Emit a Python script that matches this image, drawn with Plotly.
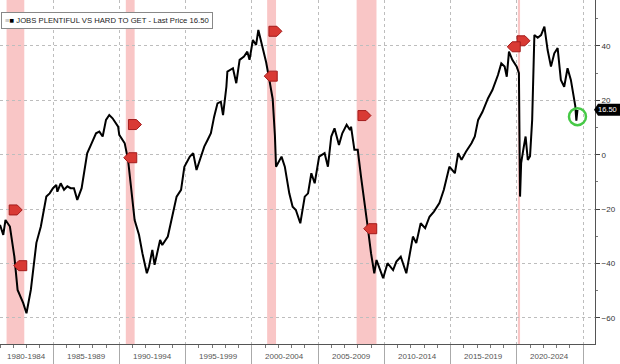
import plotly.graph_objects as go

# ---- data ----
dates = [
    "1981-01", "1981-04", "1981-06", "1981-10", "1982-02", "1982-05", "1982-10",
    "1983-01", "1983-05", "1983-10", "1984-02", "1984-07", "1984-10",
    "1985-01", "1985-04", "1985-05", "1985-08", "1985-11", "1986-02", "1986-05",
    "1986-08", "1986-11", "1987-03", "1987-08", "1987-12", "1988-04", "1988-07",
    "1988-10", "1989-01", "1989-04", "1989-07", "1989-12", "1990-01", "1990-06",
    "1990-09", "1990-12", "1991-03", "1991-07", "1991-10", "1992-02", "1992-04",
    "1992-07", "1992-09", "1993-02", "1993-04", "1993-09", "1994-01", "1994-05",
    "1994-09", "1994-12", "1995-05", "1995-08", "1995-11", "1996-02", "1996-06",
    "1996-09", "1996-12", "1997-03", "1997-06", "1997-09", "1997-11", "1998-02",
    "1998-03", "1998-08", "1998-11", "1999-02", "1999-06", "1999-09", "1999-11",
    "2000-02", "2000-05", "2000-07", "2000-11", "2001-02", "2001-05", "2001-08",
    "2001-10", "2001-11", "2002-04", "2002-07", "2002-11", "2003-02", "2003-05",
    "2003-09", "2004-01", "2004-04", "2004-07", "2004-10", "2005-02", "2005-07",
    "2005-10", "2006-01", "2006-04", "2006-08", "2006-11", "2007-03", "2007-06",
    "2007-07", "2007-10", "2008-01", "2008-04", "2008-07", "2008-10", "2009-01",
    "2009-04", "2009-06", "2009-09", "2009-12", "2010-04", "2010-09", "2010-12",
    "2011-04", "2011-09", "2011-12", "2012-03", "2012-06", "2012-10", "2013-02",
    "2013-06", "2013-10", "2014-03", "2014-07", "2014-12", "2015-05", "2015-08",
    "2015-11", "2016-03", "2016-08", "2016-11", "2017-02", "2017-06", "2017-11",
    "2018-03", "2018-08", "2018-11", "2019-02", "2019-04", "2019-06", "2019-09",
    "2020-01", "2020-03", "2020-04", "2020-05", "2020-07", "2020-09", "2020-11",
    "2021-01", "2021-03", "2021-05", "2021-08", "2021-11", "2022-02", "2022-05",
    "2022-08", "2022-11", "2023-02", "2023-05", "2023-08", "2023-11", "2024-02",
    "2024-05", "2024-06", "2024-07", "2024-08",
]
values = [
    -25.8, -29.5, -24.0, -26.4, -37.5, -49.7, -54.5,
    -58.3, -49.7, -32.4, -26.4, -15.4, -14.2,
    -12.3, -11.1, -13.6, -10.5, -12.9, -11.6, -12.3,
    -12.3, -16.6, -12.3, 0.5, 4.2, 7.9, 8.5,
    6.7, 12.8, 14.6, 13.4, 10.3, 7.3, 4.2,
    -1.9, -14.2, -24.0, -29.5, -36.2, -43.6, -41.1,
    -35.0, -40.5, -31.3, -33.2, -30.1, -22.8, -15.4,
    -12.9, -4.4, -0.7, 0.6, -5.6, -1.9, 3.0,
    5.4, 7.9, 14.0, 18.9, 19.5, 14.6, 25.0,
    30.6, 31.8, 26.3, 34.9, 36.1, 37.9, 34.9,
    42.2, 40.4, 45.9, 39.5, 34.0, 27.5, 20.5,
    7.0, -4.4, -0.7, -4.4, -14.2, -19.1, -20.3,
    -25.2, -15.4, -14.2, -6.8, -10.5, -0.7, 0.6,
    -4.4, 6.7, 9.7, 3.6, 7.9, 11.0, 9.1,
    10.3, 1.8, 1.8, -8.1, -16.6, -26.4, -36.2,
    -43.6, -38.7, -42.4, -45.4, -39.9, -42.4, -39.3,
    -37.5, -43.6, -36.2, -30.1, -32.5, -25.2, -27.0,
    -22.8, -20.9, -17.8, -12.9, -4.4, -6.8, 0.6,
    -1.9, 1.1, 4.2, 6.7, 12.8, 15.8, 20.8,
    23.8, 29.3, 33.6, 32.4, 28.7, 37.9, 34.9,
    32.4, 30.0, -15.4, -3.1, 2.0, 6.7, -1.9,
    -0.5, 12.8, 44.0, 43.0, 44.0, 47.1, 38.5,
    32.4, 37.3, 39.2, 27.5, 25.0, 31.8, 27.5,
    20.1, 18.0, 12.5, 16.5,
]

recession_start = ["1981-07-01", "1990-07-01", "2001-03-01", "2007-12-01", "2020-02-01"]
recession_end = ["1982-11-01", "1991-03-01", "2001-11-01", "2009-06-01", "2020-04-01"]

event_in_dates = ["1982-02-24", "1991-02-24", "2001-10-01", "2008-06-21", "2020-06-21"]
event_in_values = [-20.3, 11.1, 45.4, 14.4, 41.9]
event_out_dates = ["1982-07-27", "1990-11-14", "2001-06-21", "2008-12-24", "2019-10-23"]
event_out_values = [-40.8, -1.1, 28.9, -27.2, 39.7]

period_labels = ["1980-1984", "1985-1989", "1990-1994", "1995-1999", "2000-2004",
                 "2005-2009", "2010-2014", "2015-2019", "2020-2024"]
period_centers = ["1983-01-01", "1987-07-01", "1992-07-01", "1997-07-01", "2002-07-01",
                  "2007-07-01", "2012-07-01", "2017-07-01", "2022-07-01"]

y_ticks = [-60, -40, -20, 0, 20, 40]
last_price = 16.50
series_name = "JOBS PLENTIFUL VS HARD TO GET"

# ---- figure ----
fig = go.Figure()

fig.add_trace(go.Scatter(
    x=dates, y=values, mode="lines",
    line=dict(color="black", width=2),
    hoverinfo="skip",
))

# green highlight around the last point
fig.add_trace(go.Scatter(
    x=[dates[-1]], y=[values[-1] - 2.5], mode="markers",
    marker=dict(symbol="circle-open", size=17, color="#46c946",
                line=dict(color="#46c946", width=2.5)),
    hoverinfo="skip",
))

shapes = []
for s, e in zip(recession_start, recession_end):
    shapes.append(dict(type="rect", xref="x", yref="paper", x0=s, x1=e, y0=0, y1=1,
                       fillcolor="rgba(240,120,120,0.42)", line=dict(width=0), layer="below"))

TAG_RIGHT = "M-6,-5 L2,-5 L7,0 L2,5 L-6,5 Z"
TAG_LEFT = "M6,-5 L-2,-5 L-7,0 L-2,5 L6,5 Z"
for d, v in zip(event_in_dates, event_in_values):
    shapes.append(dict(type="path", xref="x", yref="y", xsizemode="pixel", ysizemode="pixel",
                       xanchor=d, yanchor=v, path=TAG_RIGHT,
                       fillcolor="#d93a34", line=dict(color="#a31c1c", width=1), layer="above"))
for d, v in zip(event_out_dates, event_out_values):
    shapes.append(dict(type="path", xref="x", yref="y", xsizemode="pixel", ysizemode="pixel",
                       xanchor=d, yanchor=v, path=TAG_LEFT,
                       fillcolor="#d93a34", line=dict(color="#a31c1c", width=1), layer="above"))

# last-price tag on the right axis
shapes.append(dict(type="path", xref="paper", yref="y", xsizemode="pixel", ysizemode="pixel",
                   xanchor=1, yanchor=last_price,
                   path="M-1,0 L3,-6 L25,-6 L25,6 L3,6 Z",
                   fillcolor="black", line=dict(width=0), layer="above"))

annotations = []
for lab, c in zip(period_labels, period_centers):
    annotations.append(dict(
        x=c, xref="x", y=0, yref="paper", yanchor="top", yshift=-6,
        text=lab, showarrow=False, font=dict(size=8, color="#555", family="Liberation Sans"),
    ))

annotations.append(dict(
    x=0, xref="paper", xanchor="left", xshift=1,
    y=1, yref="paper", yanchor="top", yshift=-12,
    text='<span style="color:#aaa">≡</span><span style="color:black">■</span> '
         + series_name + " - Last Price " + f"{last_price:.2f}",
    showarrow=False, align="left",
    font=dict(size=7.7, color="#222", family="Liberation Sans"),
    bgcolor="white", bordercolor="#888", borderwidth=1, borderpad=3,
))

annotations.append(dict(
    x=1, xref="paper", xanchor="left", xshift=1,
    y=last_price, yref="y", yanchor="middle",
    text=f"{last_price:.2f}", showarrow=False,
    font=dict(size=7.5, color="white", family="Liberation Sans"),
))

fig.update_layout(
    width=620, height=364,
    margin=dict(l=0, r=25, t=0, b=20),
    paper_bgcolor="white", plot_bgcolor="white",
    showlegend=False,
    annotations=annotations,
    shapes=shapes,
    xaxis=dict(
        type="date", range=["1981-01-01", "2025-11-27"],
        tick0="1985-01-01", dtick="M60",
        ticks="outside", ticklen=20, tickcolor="#aaa", tickwidth=1,
        showticklabels=False,
        showgrid=True, gridcolor="#bdbdbd", griddash="dot", gridwidth=1,
        showline=True, linecolor="#555", linewidth=1,
        minor=dict(dtick="M12", tick0="1985-01-01", ticks="outside", ticklen=3,
                   tickcolor="#777", showgrid=False),
        zeroline=False,
    ),
    yaxis=dict(
        side="right", range=[-69.6, 56.9],
        tickvals=y_ticks,
        ticks="outside", ticklen=4, tickcolor="#444",
        tickfont=dict(size=8, color="#333", family="Liberation Sans"),
        showgrid=True, gridcolor="#bdbdbd", griddash="dot", gridwidth=1,
        showline=True, linecolor="#555", linewidth=1,
        minor=dict(dtick=10, ticks="outside", ticklen=2, tickcolor="#777", showgrid=False),
        zeroline=False,
    ),
)

fig.write_html("out.html", config={"displayModeBar": False},
               post_script="document.body.style.margin='0';")
